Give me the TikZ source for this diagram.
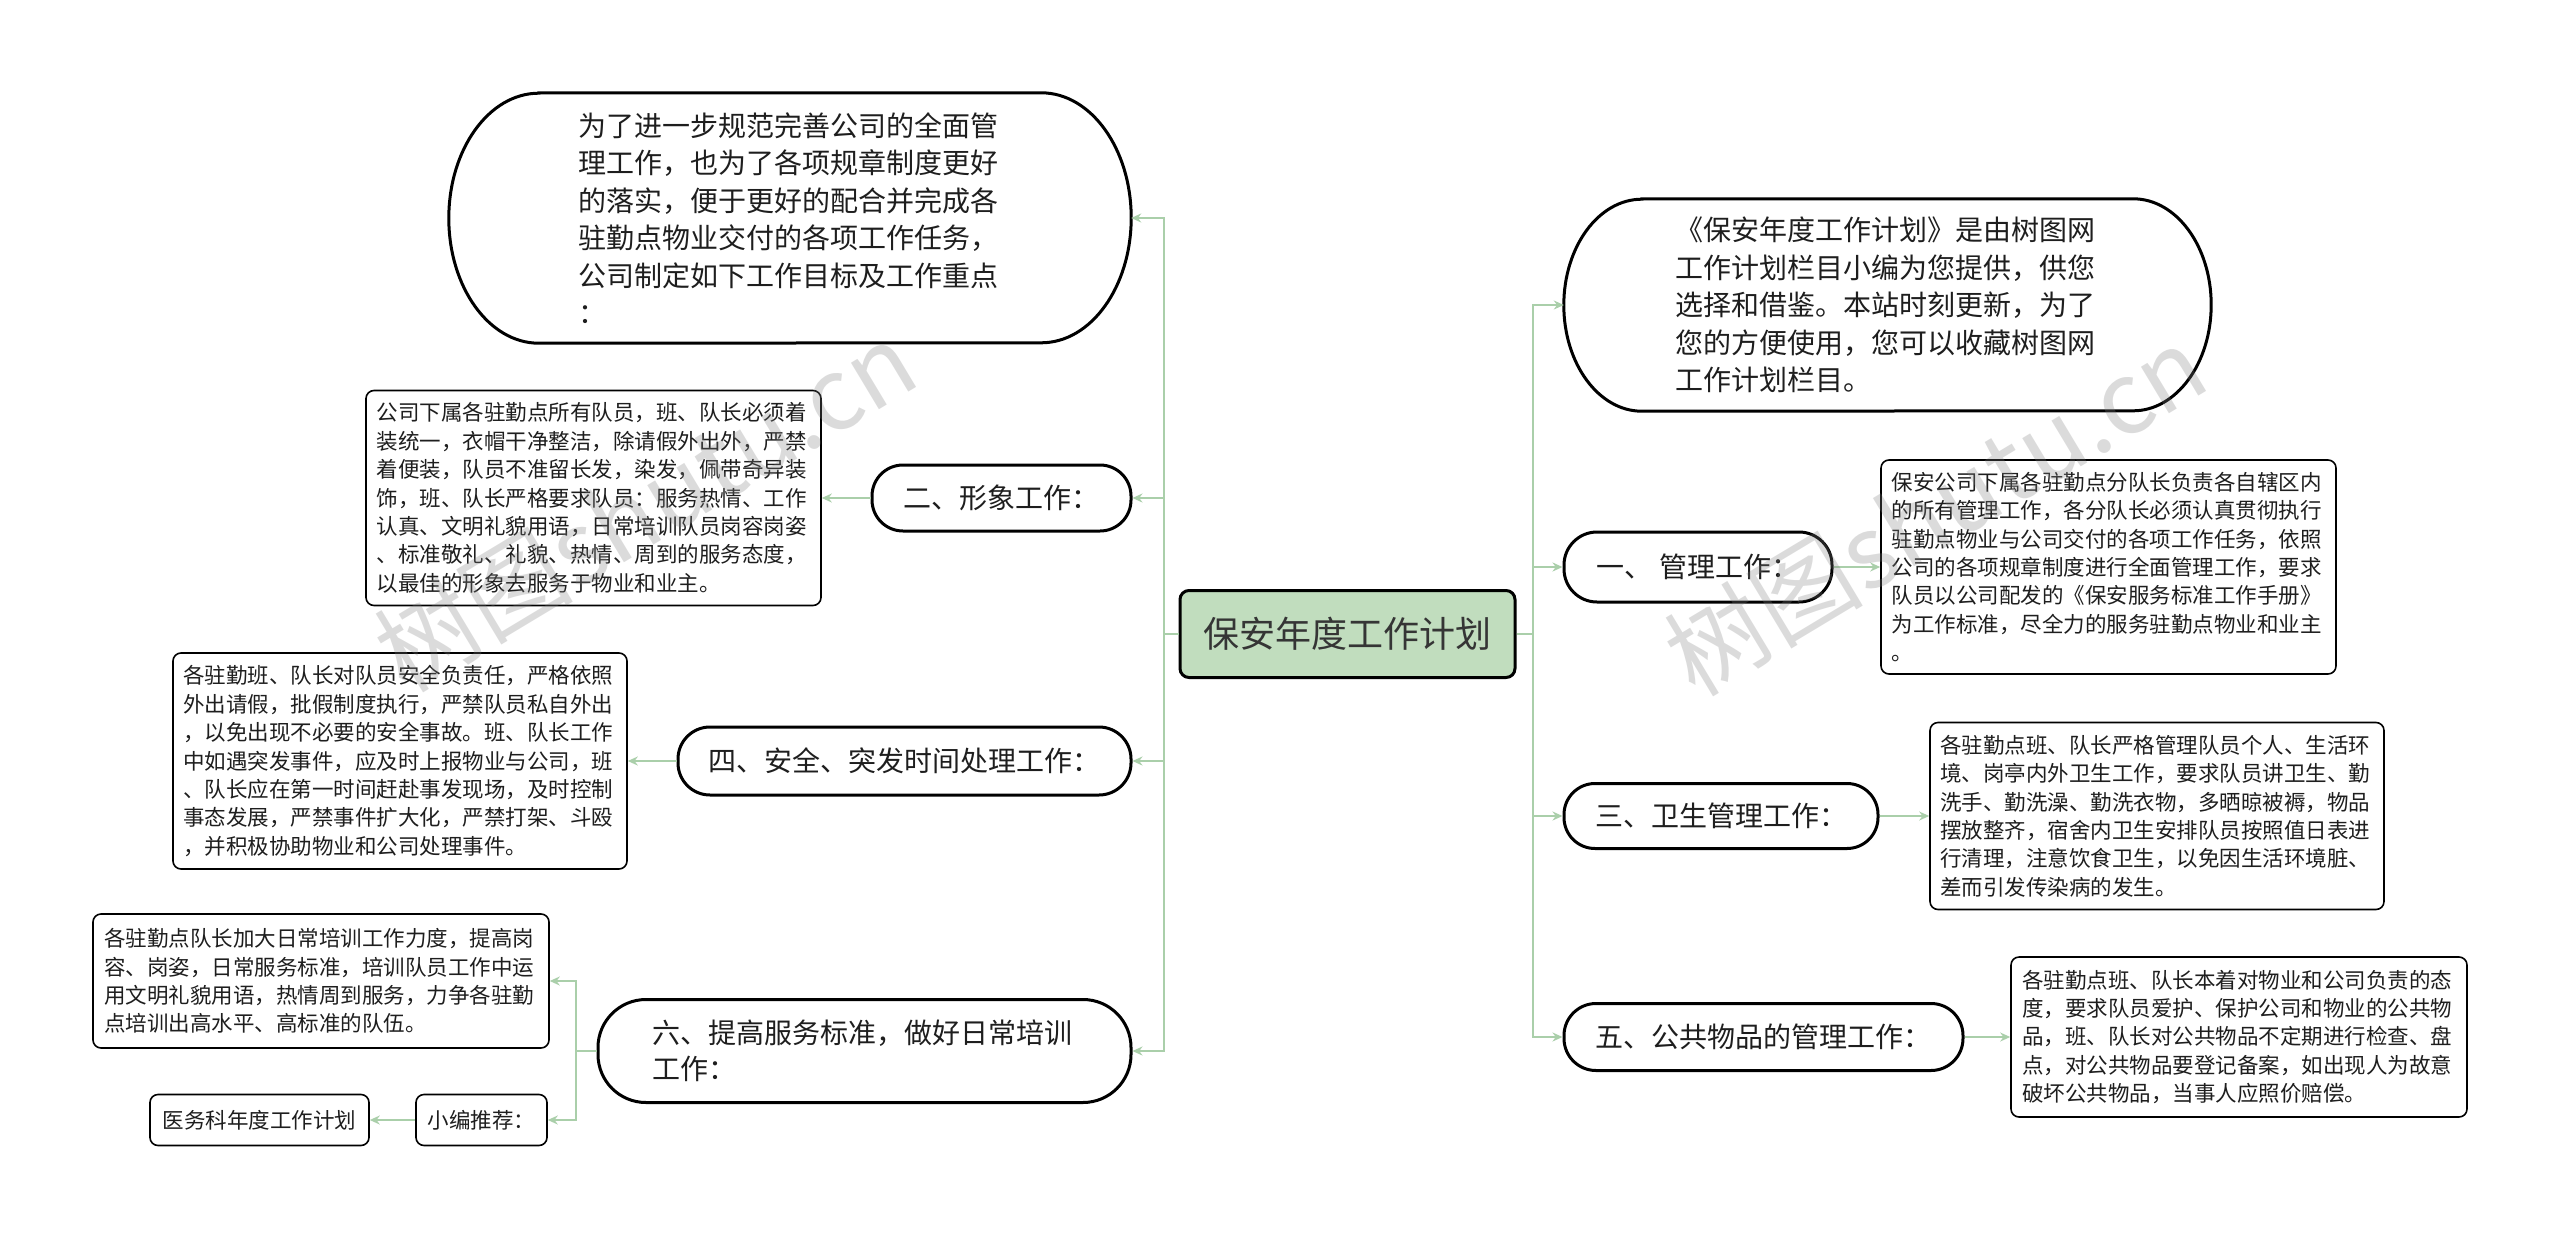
\documentclass[tikz,border=0pt]{standalone}
\usepackage{fontspec}
\setmainfont{Noto Sans CJK SC}
\usetikzlibrary{arrows.meta}
\definecolor{connc}{RGB}{170,207,170}
\definecolor{rootfill}{RGB}{193,221,190}
\definecolor{txt}{RGB}{30,30,30}
\tikzset{
  conn/.style={draw=connc, line width=2.2pt},
  arr/.style={conn, -{Stealth[length=10pt,width=9pt]}},
  rootbox/.style={draw=black, line width=3pt, fill=rootfill, rounded corners=9pt,
    font=\fontsize{36}{44}\selectfont, text=txt!90, inner sep=0pt},
  lvl/.style={draw=black, line width=3pt, fill=white, inner sep=0pt, align=center,
    font=\fontsize{28}{36.5}\selectfont, text=txt},
  bigtext/.style={draw=none, inner sep=0pt, align=left,
    font=\fontsize{28}{37.5}\selectfont, text=txt},
  bigline/.style={draw=black, line width=3pt},
  leaf/.style={draw=black, line width=1.6pt, rounded corners=8pt, fill=white,
    inner sep=0pt, align=left, font=\fontsize{21.5}{28.4}\selectfont, text=txt},
  wm/.style={font=\fontsize{100}{100}\selectfont, text=gray, opacity=0.28, inner sep=0pt}
}
\begin{document}
\begin{tikzpicture}[x=1pt,y=-1pt]
\fill[white] (0,0) rectangle (2560,1237);
\useasboundingbox (0,0) rectangle (2560,1237);

% root
\node[rootbox, minimum width=335pt, minimum height=87pt] (root) at (1347.5,634) {保安年度工作计划};
\coordinate (Lt) at (1164,634);
\coordinate (Rt) at (1533,634);

% left side
\node[bigtext, minimum width=682pt, minimum height=250pt, text width=424pt] (A) at (790,218)
 {为了进一步规范完善公司的全面管\\理工作，也为了各项规章制度更好\\的落实，便于更好的配合并完成各\\驻勤点物业交付的各项工作任务，\\公司制定如下工作目标及工作重点\\：};
\draw[bigline] ([xshift=90pt]A.north west) -- ([xshift=-90pt]A.north east)
  arc[start angle=90, end angle=-90, x radius=90pt, y radius=125pt]
  -- ([xshift=90pt]A.south west)
  arc[start angle=270, end angle=90, x radius=90pt, y radius=125pt] -- cycle;

\node[lvl, rounded corners=31pt, minimum width=259pt, minimum height=66pt] (B) at (1001.5,498) {二、形象工作：};
\node[leaf, minimum width=455pt, minimum height=215pt, text width=434pt] (Bt) at (593.5,498)
 {公司下属各驻勤点所有队员，班、队长必须着\\装统一，衣帽干净整洁，除请假外出外，严禁\\着便装，队员不准留长发，染发，佩带奇异装\\饰，班、队长严格要求队员：服务热情、工作\\认真、文明礼貌用语，日常培训队员岗容岗姿\\、标准敬礼、礼貌、热情、周到的服务态度，\\以最佳的形象去服务于物业和业主。};

\node[lvl, rounded corners=32pt, minimum width=453pt, minimum height=68pt] (C) at (904.5,761) {四、安全、突发时间处理工作：};
\node[leaf, minimum width=454pt, minimum height=216pt, text width=434pt] (Ct) at (400,761)
 {各驻勤班、队长对队员安全负责任，严格依照\\外出请假，批假制度执行，严禁队员私自外出\\，以免出现不必要的安全事故。班、队长工作\\中如遇突发事件，应及时上报物业与公司，班\\、队长应在第一时间赶赴事发现场，及时控制\\事态发展，严禁事件扩大化，严禁打架、斗殴\\，并积极协助物业和公司处理事件。};

\node[lvl, rounded corners=48pt, minimum width=533pt, minimum height=103pt, align=left, text width=424pt] (D) at (864.5,1051)
 {六、提高服务标准，做好日常培训\\工作：};
\coordinate (Dt) at (576,1051);
\node[leaf, minimum width=456pt, minimum height=134pt, text width=434pt] (D1) at (321,981)
 {各驻勤点队长加大日常培训工作力度，提高岗\\容、岗姿，日常服务标准，培训队员工作中运\\用文明礼貌用语，热情周到服务，力争各驻勤\\点培训出高水平、高标准的队伍。};
\node[leaf, minimum width=131pt, minimum height=51pt, align=center] (D2) at (481.5,1120) {小编推荐：};
\node[leaf, minimum width=219pt, minimum height=51pt, align=center] (D3) at (259.5,1120) {医务科年度工作计划};

% right side
\node[bigtext, minimum width=647pt, minimum height=212pt, text width=424pt] (E) at (1887.5,305)
 {《保安年度工作计划》是由树图网\\工作计划栏目小编为您提供，供您\\选择和借鉴。本站时刻更新，为了\\您的方便使用，您可以收藏树图网\\工作计划栏目。};
\draw[bigline] ([xshift=78pt]E.north west) -- ([xshift=-78pt]E.north east)
  arc[start angle=90, end angle=-90, x radius=78pt, y radius=106pt]
  -- ([xshift=78pt]E.south west)
  arc[start angle=270, end angle=90, x radius=78pt, y radius=106pt] -- cycle;

\node[lvl, rounded corners=33pt, minimum width=268pt, minimum height=70pt] (F) at (1698,567) {一、 管理工作：};
\node[leaf, minimum width=455pt, minimum height=214pt, text width=434pt] (Ft) at (2108.5,567)
 {保安公司下属各驻勤点分队长负责各自辖区内\\的所有管理工作，各分队长必须认真贯彻执行\\驻勤点物业与公司交付的各项工作任务，依照\\公司的各项规章制度进行全面管理工作，要求\\队员以公司配发的《保安服务标准工作手册》\\为工作标准，尽全力的服务驻勤点物业和业主\\。};

\node[lvl, rounded corners=31pt, minimum width=314pt, minimum height=65pt] (G) at (1721,816) {三、卫生管理工作：};
\node[leaf, minimum width=454pt, minimum height=187pt, text width=434pt] (Gt) at (2157,816)
 {各驻勤点班、队长严格管理队员个人、生活环\\境、岗亭内外卫生工作，要求队员讲卫生、勤\\洗手、勤洗澡、勤洗衣物，多晒晾被褥，物品\\摆放整齐，宿舍内卫生安排队员按照值日表进\\行清理，注意饮食卫生，以免因生活环境脏、\\差而引发传染病的发生。};

\node[lvl, rounded corners=32pt, minimum width=399pt, minimum height=67pt] (H) at (1763.5,1037) {五、公共物品的管理工作：};
\node[leaf, minimum width=456pt, minimum height=160pt, text width=434pt] (Ht) at (2239,1037)
 {各驻勤点班、队长本着对物业和公司负责的态\\度，要求队员爱护、保护公司和物业的公共物\\品，班、队长对公共物品不定期进行检查、盘\\点，对公共物品要登记备案，如出现人为故意\\破坏公共物品，当事人应照价赔偿。};

% connectors left
\draw[conn] (root.west) -- (Lt);
\draw[arr] (Lt) |- (A.east);
\draw[arr] (Lt) |- (B.east);
\draw[arr] (Lt) |- (C.east);
\draw[arr] (Lt) |- (D.east);
\draw[arr] (B.west) -- (Bt.east);
\draw[arr] (C.west) -- (Ct.east);
\draw[conn] (D.west) -- (Dt);
\draw[arr] (Dt) |- (D1.east);
\draw[arr] (Dt) |- (D2.east);
\draw[arr] (D2.west) -- (D3.east);

% connectors right
\draw[conn] (root.east) -- (Rt);
\draw[arr] (Rt) |- (E.west);
\draw[arr] (Rt) |- (F.west);
\draw[arr] (Rt) |- (G.west);
\draw[arr] (Rt) |- (H.west);
\draw[arr] (F.east) -- (Ft.west);
\draw[arr] (G.east) -- (Gt.west);
\draw[arr] (H.east) -- (Ht.west);

% watermarks
\node[wm, rotate=31] (wm1) at (645,506) {树图shutu.cn};
\node[wm, rotate=31] (wm2) at (1935,510) {树图shutu.cn};
\end{tikzpicture}
\end{document}
